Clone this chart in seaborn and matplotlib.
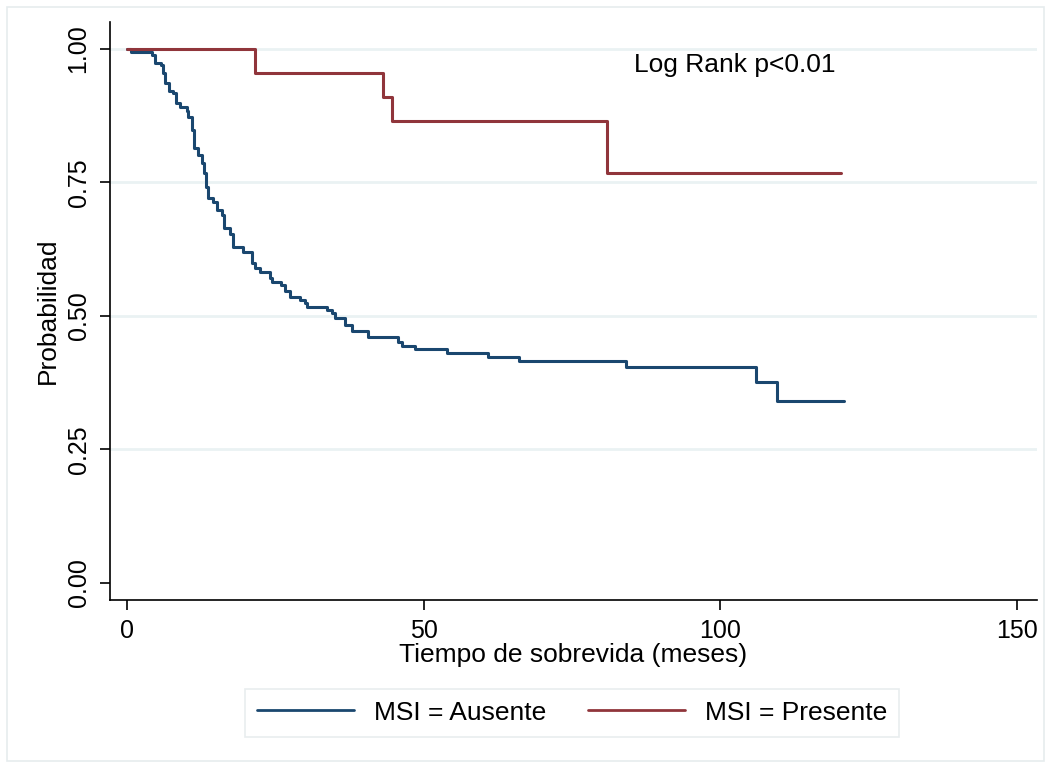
import pandas as pd
import matplotlib.pyplot as plt
import matplotlib.patches as mpatches
import seaborn as sns

# Kaplan-Meier steps (tiempo en meses, supervivencia)
ausente_t = [0, 0.7, 4.2, 4.7, 5.7, 6.0, 6.4, 7.0, 7.8, 8.3, 8.9, 10.1, 10.3, 10.9,
             11.3, 12.0, 12.6, 13.0, 13.3, 13.7, 14.5, 15.1, 16.0, 16.4, 17.4, 17.9,
             19.6, 21.0, 21.6, 22.4, 24.1, 24.4, 25.9, 26.6, 27.5, 29.2, 30.0, 30.4,
             33.7, 34.5, 35.1, 36.7, 37.9, 40.7, 45.7, 46.3, 48.5, 53.9, 60.9, 66.1,
             84.1, 106.1, 109.6, 120.8]
ausente_s = [1.0, 0.994, 0.989, 0.974, 0.970, 0.955, 0.936, 0.922, 0.918, 0.899, 0.892,
             0.884, 0.873, 0.848, 0.814, 0.801, 0.787, 0.768, 0.742, 0.720, 0.714, 0.699,
             0.689, 0.664, 0.654, 0.630, 0.620, 0.599, 0.589, 0.582, 0.571, 0.564, 0.558,
             0.546, 0.536, 0.530, 0.524, 0.517, 0.511, 0.505, 0.496, 0.483, 0.472, 0.461,
             0.452, 0.444, 0.438, 0.431, 0.424, 0.415, 0.404, 0.377, 0.340, 0.340]

presente_t = [0, 21.6, 43.1, 44.7, 80.9, 120.3]
presente_s = [1.0, 0.955, 0.910, 0.865, 0.768, 0.768]

grupos = ["MSI = Ausente", "MSI = Presente"]
colores = ["#1A476F", "#90353B"]

x_ticks = [0, 50, 100, 150]
y_ticks = [0.0, 0.25, 0.5, 0.75, 1.0]

df = pd.concat([
    pd.DataFrame({"t": ausente_t, "s": ausente_s, "grupo": grupos[0]}),
    pd.DataFrame({"t": presente_t, "s": presente_s, "grupo": grupos[1]}),
], ignore_index=True)

sns.set_style("white")
plt.rcParams["font.family"] = ["Liberation Sans", "DejaVu Sans"]
plt.rcParams["text.color"] = "black"
plt.rcParams["axes.labelcolor"] = "black"
plt.rcParams["xtick.color"] = "black"
plt.rcParams["ytick.color"] = "black"

fig = plt.figure(figsize=(10.51, 7.68), dpi=100)
ax = fig.add_axes([0.1047, 0.21875, 0.882, 0.7527])

sns.lineplot(data=df, x="t", y="s", hue="grupo", hue_order=grupos,
             palette=colores, drawstyle="steps-post", estimator=None,
             linewidth=2.2, ax=ax, legend=False)

ax.set_xlim(-2.87, 153.4)
ax.set_ylim(-0.032, 1.0506)
ax.set_xticks(x_ticks)
ax.set_xticklabels([str(v) for v in x_ticks])
ax.set_yticks(y_ticks)
ax.set_yticklabels([f"{v:.2f}" for v in y_ticks], rotation=90, va="center")

ax.yaxis.grid(True, color="#EAF2F3", linewidth=2)
ax.set_axisbelow(True)
ax.yaxis.get_gridlines()[0].set_visible(False)

for s in ["top", "right"]:
    ax.spines[s].set_visible(False)
for s in ["left", "bottom"]:
    ax.spines[s].set_color("black")
    ax.spines[s].set_linewidth(1.2)

ax.tick_params(axis="both", direction="out", length=7, width=1.2,
               color="black", labelcolor="black", labelsize=18, pad=7,
               left=True, bottom=True)

ax.set_xlabel("Tiempo de sobrevida (meses)", fontsize=19, labelpad=0)
ax.set_ylabel("Probabilidad", fontsize=19, labelpad=5)

ax.text(0.565, 0.926, "Log Rank p<0.01", transform=ax.transAxes,
        ha="left", va="center", fontsize=19)

handles = [plt.Line2D([], [], color=c, linewidth=2) for c in colores]
leg = fig.legend(handles, grupos, loc="center", bbox_to_anchor=(0.5445, 0.072),
                 ncol=2, fontsize=19, frameon=True, fancybox=False,
                 handlelength=3.67, columnspacing=1.6, handletextpad=0.76,
                 borderpad=0.45)
leg.get_frame().set_edgecolor("#E3E9EB")
leg.get_frame().set_linewidth(1.2)

fig.patches.append(mpatches.Rectangle((7 / 1051, 7 / 768), 1037 / 1051, 754 / 768,
                                      transform=fig.transFigure, fill=False,
                                      edgecolor="#E6ECEE", linewidth=1.2))

fig.savefig("out.png", dpi=100)
